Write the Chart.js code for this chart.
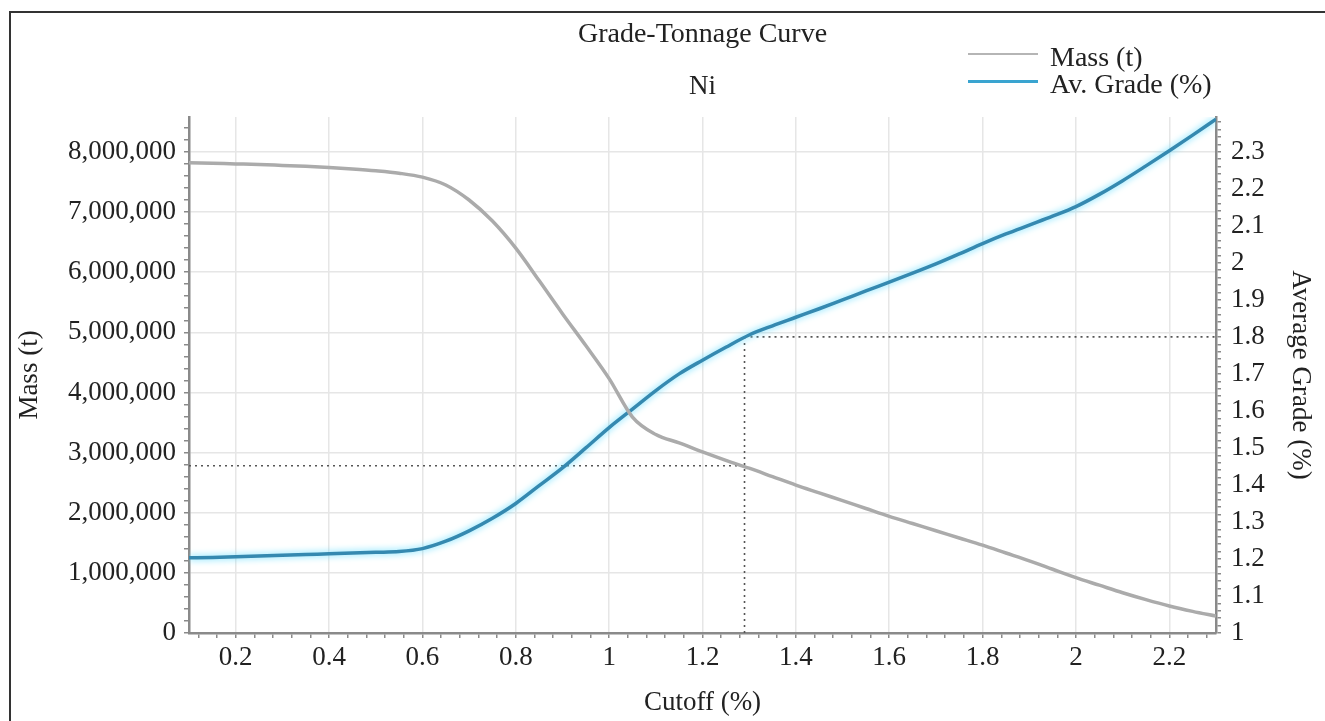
<!DOCTYPE html>
<html>
<head>
<meta charset="utf-8">
<script src="https://cdn.jsdelivr.net/npm/chart.js@4.4.1/dist/chart.umd.min.js"></script>
<style>
    html, body { margin: 0; padding: 0; background: #fff; overflow: hidden; }
    body { width: 1325px; height: 721px; position: relative; font-family: "Liberation Serif", serif; }
    #frame { position: absolute; left: 9px; top: 11px; width: 1400px; height: 800px;
             border-left: 2px solid #333; border-top: 2px solid #333; }
    #wrap { position: absolute; left: 0; top: 0; width: 1325px; height: 721px; }
    #legend { position: absolute; left: 968px; top: 43px; color: #222; font-size: 28px; }
    #legend .item { display: flex; align-items: center; height: 27px; line-height: 27px; }
    #legend .swatch { width: 70px; margin-right: 12px; margin-top: -5px; }
</style>
</head>
<body>
<div id="frame"></div>
<div id="wrap"><canvas id="chart" width="1325" height="721"></canvas></div>
<div id="legend"></div>
<script>
"use strict";

/* ===== DATA ===== */
const cutoffs = [0.10, 0.15, 0.20, 0.25, 0.30, 0.35, 0.40, 0.45, 0.50, 0.55,
                 0.60, 0.65, 0.70, 0.75, 0.80, 0.85, 0.90, 0.95, 1.00, 1.05,
                 1.10, 1.15, 1.20, 1.25, 1.30, 1.35, 1.40, 1.45, 1.50, 1.55,
                 1.60, 1.65, 1.70, 1.75, 1.80, 1.85, 1.90, 1.95, 2.00, 2.05,
                 2.10, 2.15, 2.20, 2.25, 2.30];

// tonnes above cutoff
const massTonnes = [7820000, 7810000, 7800000, 7790000, 7775000, 7760000, 7740000, 7715000, 7685000, 7645000,
                    7580000, 7450000, 7200000, 6850000, 6400000, 5860000, 5310000, 4780000, 4230000, 3590000,
                    3300000, 3160000, 3010000, 2870000, 2740000, 2600000, 2460000, 2330000, 2200000, 2070000,
                    1940000, 1820000, 1700000, 1580000, 1460000, 1330000, 1200000, 1060000, 920000, 795000,
                    670000, 555000, 450000, 360000, 280000];

// average grade above cutoff (%)
const avgGrade = [1.203, 1.204, 1.206, 1.208, 1.210, 1.212, 1.214, 1.216, 1.218, 1.220,
                  1.228, 1.248, 1.276, 1.310, 1.350, 1.398, 1.446, 1.500, 1.555, 1.605,
                  1.655, 1.700, 1.737, 1.772, 1.805, 1.830, 1.853, 1.876, 1.900, 1.924,
                  1.948, 1.972, 1.997, 2.024, 2.052, 2.078, 2.102, 2.126, 2.152, 2.185,
                  2.222, 2.262, 2.303, 2.345, 2.388];

// reference point marked with dotted lines
const refCutoff = 1.29;
const refMass = 2780000;
const refGrade = 1.8;

const seriesLabels = ["Mass (t)", "Av. Grade (%)"];

/* ===== HELPERS ===== */
const isMultiple = (v, step) => Math.abs(v / step - Math.round(v / step)) < 1e-6;
const fmtNum = v => String(+v.toFixed(2));

function buildTicks(from, to, step) {
    const out = [];
    for (let v = from; v <= to + 1e-9; v += step) out.push({ value: +v.toFixed(4) });
    return out;
}

const serif = size => ({ family: "'Liberation Serif', 'Times New Roman', serif", size: size });

/* ===== GLOW FOR THE GRADE LINE ===== */
const glowPlugin = {
    id: "glow",
    beforeDatasetDraw(chart, args) {
        if (args.index !== 1) return;
        chart.ctx.save();
        chart.ctx.shadowColor = "rgba(95, 220, 255, 1)";
        chart.ctx.shadowBlur = 7;
    },
    afterDatasetDraw(chart, args) {
        if (args.index !== 1) return;
        chart.ctx.restore();
    }
};

/* ===== CHART ===== */
const dotted = {
    borderColor: "#555",
    borderWidth: 1.6,
    borderDash: [2, 4],
    pointRadius: 0,
    fill: false,
    tension: 0,
    refLine: true
};

const chart = new Chart(document.getElementById("chart"), {
    type: "line",
    data: {
        datasets: [
            {
                label: seriesLabels[0],
                data: cutoffs.map((c, i) => ({ x: c, y: massTonnes[i] })),
                yAxisID: "y",
                borderColor: "#ababab",
                borderWidth: 3.5,
                pointRadius: 0,
                cubicInterpolationMode: "monotone"
            },
            {
                label: seriesLabels[1],
                data: cutoffs.map((c, i) => ({ x: c, y: avgGrade[i] })),
                yAxisID: "y1",
                borderColor: "#3589b0",
                borderWidth: 3.5,
                pointRadius: 0,
                cubicInterpolationMode: "monotone"
            },
            { ...dotted, yAxisID: "y", data: [{ x: cutoffs[0], y: refMass }, { x: refCutoff, y: refMass }] },
            { ...dotted, yAxisID: "y1", data: [{ x: refCutoff, y: 1 }, { x: refCutoff, y: refGrade }] },
            { ...dotted, yAxisID: "y1", data: [{ x: refCutoff, y: refGrade }, { x: cutoffs[cutoffs.length - 1], y: refGrade }] }
        ]
    },
    options: {
        responsive: false,
        animation: false,
        layout: { padding: 0 },
        plugins: {
            legend: { display: false },
            tooltip: { enabled: false },
            title: {
                display: true,
                text: "Grade-Tonnage Curve",
                fullSize: false,
                color: "#222",
                font: { ...serif(28), weight: "normal" },
                padding: { top: 18, bottom: 19 }
            },
            subtitle: {
                display: true,
                text: "Ni",
                fullSize: false,
                color: "#222",
                font: serif(27),
                padding: { top: 0, bottom: 14 }
            }
        },
        scales: {
            x: {
                type: "linear",
                min: 0.1,
                max: 2.3,
                afterBuildTicks: s => { s.ticks = buildTicks(0.12, 2.28, 0.04); },
                afterFit: s => { s.height = 88; },
                border: { color: "#8a8a8a", width: 2.5 },
                grid: {
                    color: c => c.tick && isMultiple(c.tick.value, 0.2) ? "#e6e6e6" : "rgba(0,0,0,0)",
                    tickColor: "#8a8a8a",
                    lineWidth: 1.5,
                    tickLength: 5
                },
                ticks: {
                    autoSkip: false,
                    maxRotation: 0,
                    padding: 4,
                    color: "#222",
                    font: serif(27),
                    callback: v => isMultiple(v, 0.2) ? fmtNum(v) : ""
                },
                title: {
                    display: true,
                    text: "Cutoff (%)",
                    color: "#222",
                    font: serif(27),
                    padding: { top: 0, bottom: 2 }
                }
            },
            y: {
                type: "linear",
                position: "left",
                min: 0,
                max: 8580000,
                afterBuildTicks: s => { s.ticks = buildTicks(0, 8400000, 200000); },
                afterFit: s => { s.width = 189; },
                border: { color: "#8a8a8a", width: 2.5 },
                grid: {
                    color: c => c.tick && isMultiple(c.tick.value, 1000000) ? "#e6e6e6" : "rgba(0,0,0,0)",
                    tickColor: "#8a8a8a",
                    lineWidth: 1.5,
                    tickLength: 5
                },
                ticks: {
                    autoSkip: false,
                    padding: 8,
                    color: "#222",
                    font: serif(27),
                    callback: v => isMultiple(v, 1000000) ? v.toLocaleString("en-US") : ""
                },
                title: {
                    display: true,
                    text: "Mass (t)",
                    color: "#222",
                    font: serif(27),
                    padding: { top: 14, bottom: 0 }
                }
            },
            y1: {
                type: "linear",
                position: "right",
                min: 1,
                max: 2.394,
                afterBuildTicks: s => { s.ticks = buildTicks(1, 2.38, 0.02); },
                afterFit: s => { s.width = 109; },
                border: { color: "#8a8a8a", width: 2.5 },
                grid: {
                    drawOnChartArea: false,
                    tickColor: "#8a8a8a",
                    lineWidth: 1.5,
                    tickLength: 5
                },
                ticks: {
                    autoSkip: false,
                    padding: 10,
                    color: "#222",
                    font: serif(27),
                    callback: v => isMultiple(v, 0.1) ? fmtNum(v) : ""
                },
                title: {
                    display: true,
                    text: "Average Grade (%)",
                    color: "#222",
                    font: serif(27),
                    padding: { top: 9, bottom: 0 }
                }
            }
        }
    },
    plugins: [glowPlugin]
});

/* ===== LEGEND ===== */
const legendBox = document.getElementById("legend");
legendBox.innerHTML = chart.data.datasets
    .filter(d => !d.refLine)
    .map((d, i) => `
    <div class="item">
        <span class="swatch" style="border-top:${i === 0 ? "2px solid #b5b5b5" : "3px solid #3aa4d0"}"></span>
        <span>${d.label}</span>
    </div>`).join("");
</script>
</body>
</html>
